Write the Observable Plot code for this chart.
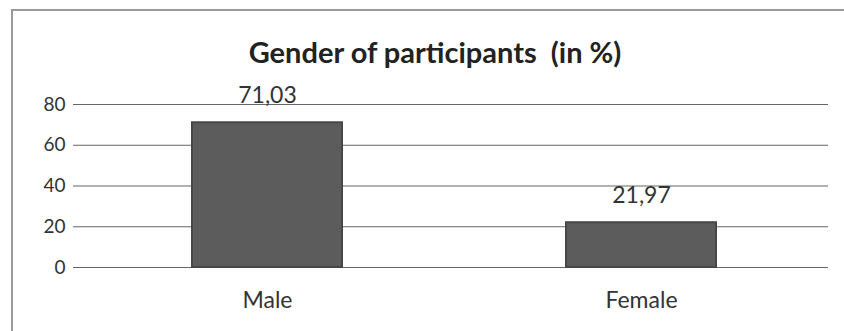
<!DOCTYPE html>
<html><head><meta charset="utf-8">
<script src="https://cdn.jsdelivr.net/npm/d3@7"></script>
<script src="https://cdn.jsdelivr.net/npm/@observablehq/plot@0.6"></script>
<style>
body{margin:0;background:#fff;width:844px;height:331px;overflow:hidden;position:relative;font-family:Lato,"Open Sans",sans-serif;}
#frame{position:absolute;left:11px;top:9px;width:850px;height:330px;border:2px solid #9a9a9a;box-sizing:border-box;}
#title{position:absolute;left:0;top:37px;width:870px;text-align:center;font-weight:bold;font-size:29px;line-height:29px;color:#222;}
#chart{position:absolute;left:0;top:70px;}
</style></head><body>
<div id="frame"></div>
<div id="title">Gender of participants&nbsp; (in %)</div>
<div id="chart"></div>
<script>
const categories = ["Male", "Female"];
const values = [71.03, 21.97];
const labels = ["71,03", "21,97"];
const yTicks = [0, 20, 40, 60, 80];

const data = categories.map((c, i) => ({category: c, value: values[i], label: labels[i]}));

const plot = Plot.plot({
  width: 844,
  height: 261,
  marginLeft: 80,
  marginRight: 16,
  marginTop: 34,
  marginBottom: 64,
  style: {fontFamily: "Lato, 'Open Sans', sans-serif", background: "transparent", color: "#333"},
  x: {domain: categories, paddingInner: 0.6, paddingOuter: 0.3, label: null},
  y: {domain: [0, 80], ticks: yTicks, label: null},
  marks: [
    Plot.ruleY(yTicks, {stroke: "#666", strokeWidth: 1}),
    Plot.ruleX([0], {frameAnchor: "left", stroke: "#bbb"}),
    Plot.barY(data, {x: "category", y: "value", fill: "#5c5c5c", stroke: "#474747", strokeWidth: 2}),
    Plot.axisY({ticks: yTicks, tickSize: 7, tickPadding: 8, fontSize: 19, stroke: "#666", tickFormat: d => d}),
    Plot.axisX({tickSize: 0, tickPadding: 24, fontSize: 23}),
    Plot.text(data, {x: "category", y: "value", text: "label", dy: -27, fontSize: 23, fill: "#333"})
  ]
});
document.getElementById("chart").appendChild(plot);
</script>
</body></html>
